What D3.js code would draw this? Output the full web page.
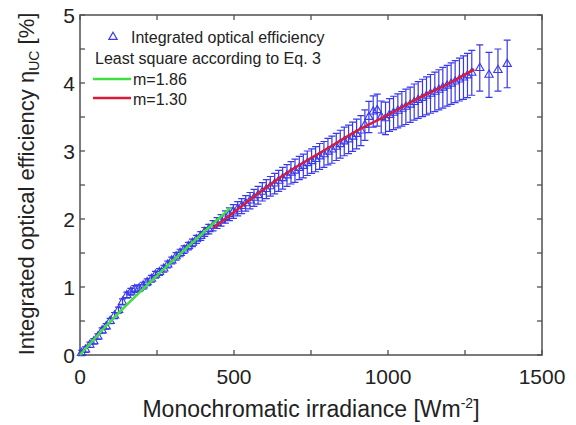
<!DOCTYPE html>
<html>
<head>
<meta charset="utf-8">
<script src="https://cdn.jsdelivr.net/npm/d3@7"></script>
<style>
  body { margin: 0; background: #fff; }
  svg text { font-family: "Liberation Sans", Arial, sans-serif; fill: #222; }
</style>
</head>
<body>
<svg id="chart" width="576" height="425"></svg>
<script>
// measured irradiance [W/m2] and integrated optical efficiency [%]
const irradiance = [5, 18, 32, 45, 58, 72, 85, 98, 112, 125, 138, 152, 165, 178, 192, 205, 218, 232, 245, 258,
  272, 285, 298, 312, 325, 338, 352, 365, 378, 392, 405, 418, 432, 445, 458, 472, 485, 498, 512, 525,
  538, 552, 565, 578, 592, 605, 618, 632, 645, 658, 672, 685, 698, 712, 725, 738, 752, 765, 778, 792,
  805, 818, 832, 845, 858, 872, 885, 898, 912, 925, 938, 952, 965, 978, 992, 1005, 1018, 1032, 1045, 1058,
  1072, 1085, 1098, 1112, 1125, 1138, 1152, 1165, 1178, 1192, 1205, 1218, 1232, 1245, 1258, 1272,
  1298, 1328, 1357, 1387];
const efficiency = [0.03, 0.08, 0.15, 0.2, 0.27, 0.36, 0.42, 0.5, 0.58, 0.66, 0.78, 0.88, 0.93, 0.97, 0.98, 1.02, 1.07, 1.12, 1.18, 1.22,
  1.27, 1.33, 1.39, 1.45, 1.5, 1.55, 1.6, 1.65, 1.7, 1.75, 1.81, 1.85, 1.9, 1.94, 1.98, 2.03, 2.07, 2.11, 2.15, 2.19,
  2.23, 2.27, 2.31, 2.35, 2.4, 2.44, 2.48, 2.52, 2.56, 2.6, 2.64, 2.68, 2.71, 2.75, 2.78, 2.82, 2.85, 2.88, 2.92, 2.95,
  2.99, 3.02, 3.06, 3.1, 3.14, 3.17, 3.21, 3.25, 3.3, 3.38, 3.5, 3.58, 3.6, 3.5, 3.48, 3.53, 3.56, 3.59, 3.62, 3.65,
  3.68, 3.72, 3.75, 3.78, 3.81, 3.84, 3.87, 3.9, 3.93, 3.96, 3.99, 4.02, 4.05, 4.08, 4.11, 4.15,
  4.22, 4.12, 4.19, 4.28];
const errors = [0.04, 0.04, 0.04, 0.04, 0.04, 0.04, 0.04, 0.04, 0.045, 0.045, 0.045, 0.045,
  0.05, 0.05, 0.05, 0.05, 0.05, 0.05, 0.05, 0.05, 0.05, 0.05, 0.05,
  0.055, 0.055, 0.055, 0.055, 0.055, 0.06, 0.065, 0.065, 0.07,
  0.075, 0.08, 0.085, 0.09, 0.095, 0.1,
  0.105, 0.11, 0.115, 0.12, 0.125, 0.13, 0.135,
  0.14, 0.145, 0.15, 0.155, 0.16, 0.16, 0.165, 0.17,
  0.17, 0.175, 0.18, 0.18, 0.185, 0.19, 0.19,
  0.195, 0.2, 0.2, 0.205, 0.21, 0.21, 0.215, 0.22,
  0.22, 0.225, 0.23, 0.23, 0.235, 0.235, 0.24,
  0.24, 0.245, 0.25, 0.255, 0.26, 0.26, 0.265, 0.27,
  0.275, 0.28, 0.285, 0.29, 0.295, 0.3, 0.3,
  0.305, 0.31, 0.315, 0.32, 0.325, 0.33,
  0.34, 0.33, 0.31, 0.35];

// least square fits (Eq. 3)
const fitLowX = [0, 100, 200, 300, 400, 490];
const fitLowY = [0, 0.5, 0.95, 1.38, 1.8, 2.17];
const fitHighX = [433, 500, 600, 700, 800, 900, 1000, 1100, 1200, 1280];
const fitHighY = [1.87, 2.1, 2.45, 2.76, 3.03, 3.3, 3.53, 3.78, 4.0, 4.2];

const xTicks = [0, 500, 1000, 1500];
const yTicks = [0, 1, 2, 3, 4, 5];
const legendLabels = ['Integrated optical efficiency', 'Least square according to Eq. 3', 'm=1.86', 'm=1.30'];

const blue = '#3838ec', green = '#3de03d', red = '#d81b3a', axisColor = '#505050';

const svg = d3.select('#chart');
const plotL = 80, plotR = 542, plotT = 15, plotB = 355;

const x = d3.scaleLinear().domain([0, 1500]).range([plotL, plotR]);
const y = d3.scaleLinear().domain([0, 5]).range([plotB, plotT]);

// ticks (inward, all four sides)
const xMinor = d3.range(0, 1501, 250);
const yMinor = d3.range(0, 5.01, 0.5);
const tickG = svg.append('g').attr('stroke', axisColor).attr('stroke-width', 1.3);
xMinor.forEach(v => {
  tickG.append('line').attr('x1', x(v)).attr('x2', x(v)).attr('y1', plotB).attr('y2', plotB - 5);
  tickG.append('line').attr('x1', x(v)).attr('x2', x(v)).attr('y1', plotT).attr('y2', plotT + 5);
});
yMinor.forEach(v => {
  tickG.append('line').attr('x1', plotL).attr('x2', plotL + 5).attr('y1', y(v)).attr('y2', y(v));
  tickG.append('line').attr('x1', plotR).attr('x2', plotR - 5).attr('y1', y(v)).attr('y2', y(v));
});

svg.append('rect').attr('x', plotL).attr('y', plotT).attr('width', plotR - plotL).attr('height', plotB - plotT)
  .attr('fill', 'none').attr('stroke', axisColor).attr('stroke-width', 1.5);

svg.append('g').selectAll('text').data(xTicks).join('text')
  .attr('x', d => x(d)).attr('y', plotB + 29).attr('text-anchor', 'middle')
  .attr('font-size', 21).text(d => d);
svg.append('g').selectAll('text').data(yTicks).join('text')
  .attr('x', plotL - 5).attr('y', d => y(d) + 7.5).attr('text-anchor', 'end')
  .attr('font-size', 21).text(d => d);

// axis titles
const xt = svg.append('text').attr('x', 311).attr('y', 417).attr('text-anchor', 'middle').attr('font-size', 23);
xt.append('tspan').text('Monochromatic irradiance [Wm');
xt.append('tspan').attr('font-size', 14).attr('dy', -9).text('-2');
xt.append('tspan').attr('dy', 9).text(']');

const yt = svg.append('text').attr('transform', 'translate(34,184) rotate(-90)')
  .attr('text-anchor', 'middle').attr('font-size', 22);
yt.append('tspan').text('Integrated optical efficiency \u03b7');
yt.append('tspan').attr('font-size', 14).attr('dy', 5).text('UC');
yt.append('tspan').attr('dy', -5).text(' [%]');

// error bars
const pts = irradiance.map((v, i) => ({ x: v, y: efficiency[i], e: errors[i] }));
const eb = svg.append('g').attr('stroke', blue).attr('stroke-width', 1.2).attr('fill', 'none');
pts.forEach(p => {
  const cx = x(p.x), y1 = y(p.y + p.e), y2 = y(p.y - p.e);
  eb.append('path').attr('d', `M${cx},${y1}V${y2}M${cx - 3.5},${y1}H${cx + 3.5}M${cx - 3.5},${y2}H${cx + 3.5}`);
});

// data markers
const tri = d3.symbol().type(d3.symbolTriangle).size(30);
svg.append('g').selectAll('path').data(pts).join('path')
  .attr('transform', d => `translate(${x(d.x)},${y(d.y)})`)
  .attr('d', tri).attr('fill', 'none').attr('stroke', blue).attr('stroke-width', 1.1);

// fit lines, drawn over the markers
const line = d3.line().x(d => x(d[0])).y(d => y(d[1])).curve(d3.curveMonotoneX);
svg.append('path').datum(fitLowX.map((v, i) => [v, fitLowY[i]])).attr('d', line)
  .attr('fill', 'none').attr('stroke', green).attr('stroke-width', 2.5);
svg.append('path').datum(fitHighX.map((v, i) => [v, fitHighY[i]])).attr('d', line)
  .attr('fill', 'none').attr('stroke', red).attr('stroke-width', 2.5);

// legend
const lg = svg.append('g').attr('font-size', 16);
lg.append('path').attr('transform', 'translate(113,37)').attr('d', tri)
  .attr('fill', 'none').attr('stroke', blue).attr('stroke-width', 1.2);
lg.append('text').attr('x', 131).attr('y', 43).text(legendLabels[0]);
lg.append('text').attr('x', 95).attr('y', 64).text(legendLabels[1]);
lg.append('line').attr('x1', 93).attr('x2', 131).attr('y1', 79).attr('y2', 79).attr('stroke', green).attr('stroke-width', 2.5);
lg.append('text').attr('x', 133).attr('y', 85).text(legendLabels[2]);
lg.append('line').attr('x1', 93).attr('x2', 131).attr('y1', 98).attr('y2', 98).attr('stroke', red).attr('stroke-width', 2.5);
lg.append('text').attr('x', 133).attr('y', 105).text(legendLabels[3]);
</script>
</body>
</html>
